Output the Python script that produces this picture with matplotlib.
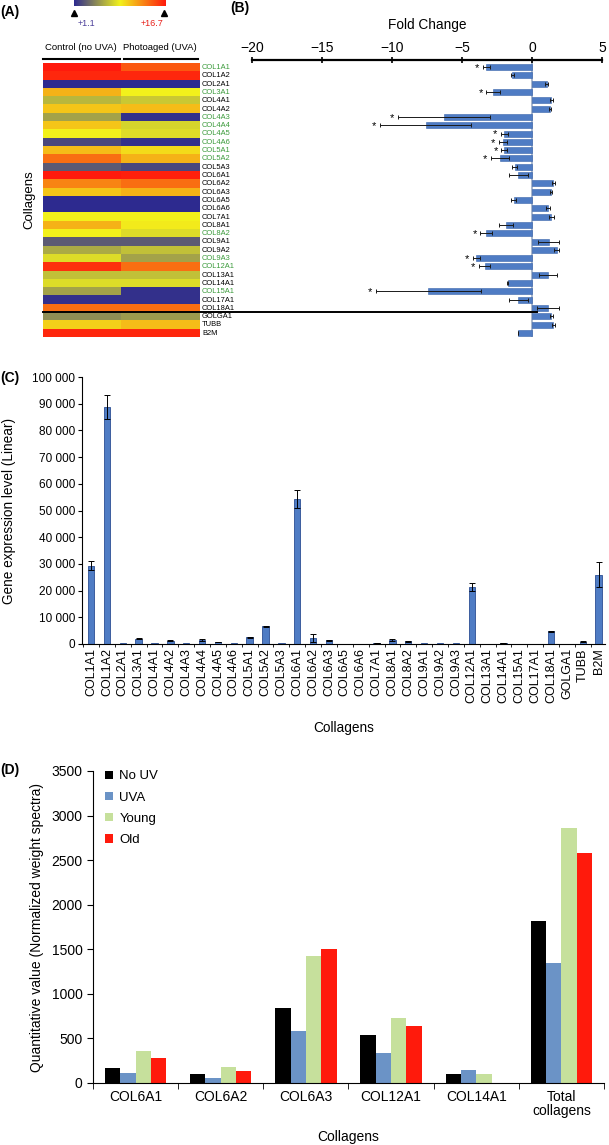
import matplotlib

matplotlib.use("Agg")
import matplotlib.pyplot as plt
import numpy as np
from matplotlib.colors import LinearSegmentedColormap
from matplotlib.lines import Line2D
from matplotlib.ticker import FuncFormatter

plt.rcParams["font.family"] = ["Liberation Sans", "DejaVu Sans"]

W, H = 609, 1145

# --- data ---
genes = ["COL1A1", "COL1A2", "COL2A1", "COL3A1", "COL4A1", "COL4A2", "COL4A3", "COL4A4",
         "COL4A5", "COL4A6", "COL5A1", "COL5A2", "COL5A3", "COL6A1", "COL6A2", "COL6A3",
         "COL6A5", "COL6A6", "COL7A1", "COL8A1", "COL8A2", "COL9A1", "COL9A2", "COL9A3",
         "COL12A1", "COL13A1", "COL14A1", "COL15A1", "COL17A1", "COL18A1",
         "GOLGA1", "TUBB", "B2M"]
significant = ["COL1A1", "COL3A1", "COL4A3", "COL4A4", "COL4A5", "COL4A6", "COL5A1",
               "COL5A2", "COL8A2", "COL9A3", "COL12A1", "COL15A1"]

# heatmap (expression scale +1.1 .. +16.7)
heat_control = [16.7, 16.2, 1.1, 11.2, 6.6, 10.5, 5.8, 10.5, 8.9, 2.3, 10.8, 13.6, 3.0,
                16.7, 12.8, 10.5, 1.1, 1.1, 8.9, 11.2, 8.9, 3.0, 6.1, 8.1, 15.9, 7.0,
                8.1, 5.8, 1.4, 13.6, 5.0, 10.1, 16.2]
heat_uva = [14.4, 16.2, 1.1, 8.9, 7.3, 10.8, 1.4, 7.8, 8.1, 1.4, 9.7, 11.2, 2.3,
            16.4, 13.6, 11.2, 1.1, 1.1, 8.9, 9.2, 8.1, 3.0, 7.0, 5.8, 13.6, 7.0,
            8.1, 1.4, 1.4, 13.6, 5.5, 10.8, 16.2]

fold_change = [-3.26, -1.42, 1.04, -2.79, 1.39, 1.28, -6.29, -7.59, -1.99, -2.08, -1.99,
               -2.27, -1.25, -0.97, 1.51, 1.35, -1.32, 1.16, 1.39, -1.89, -3.26, 1.18,
               1.75, -3.97, -3.38, 1.11, -1.73, -7.4, -0.97, 1.13, 1.37, 1.51, -1.02]
fold_err = [0.26, 0.1, 0.1, 0.47, 0.1, 0.1, 3.3, 3.26, 0.24, 0.3, 0.2, 0.66, 0.15, 0.7,
            0.1, 0.1, 0.15, 0.15, 0.15, 0.5, 0.43, 0.75, 0.15, 0.26, 0.4, 0.64, 0.05,
            3.74, 0.66, 0.78, 0.1, 0.1, 0.0]

expr_level = [29400, 88800, 200, 2000, 300, 1200, 200, 1500, 700, 200, 2600, 6600, 200,
              54200, 2400, 1400, 100, 100, 400, 1600, 1000, 200, 200, 200, 21300, 100,
              400, 100, 100, 4700, 100, 900, 25900]
expr_err = [1500, 4600, 0, 200, 0, 200, 0, 200, 100, 0, 200, 200, 0, 3400, 1500, 200, 0,
            0, 100, 400, 200, 0, 0, 0, 1500, 0, 100, 0, 0, 200, 0, 200, 4700]

prot_genes = ["COL6A1", "COL6A2", "COL6A3", "COL12A1", "COL14A1", "Total\ncollagens"]
prot_series = ["No UV", "UVA", "Young", "Old"]
prot_no_uv = [168, 101, 845, 538, 101, 1814]
prot_uva = [116, 56, 587, 340, 150, 1343]
prot_young = [359, 183, 1421, 725, 101, 2865]
prot_old = [280, 138, 1507, 636, 0, 2580]
prot_colors = ["black", "#6b93c6", "#c6e09c", "#ff1a0c"]

GREEN = "#3a9a3a"
BAR_BLUE = "#4f7cc4"
BAR_EDGE = "#2c4f94"


def fx(x):
    return x / W


def fy(y):
    return 1 - y / H


fig = plt.figure(figsize=(W / 100, H / 100), dpi=100)

# ===== (A) heatmap =====
cmap = LinearSegmentedColormap.from_list("heat", ["#2d2a8f", "#f2f21c", "#ff1a0c"])
vmin, vmax = 1.1, 16.7
n = len(genes)

ax_a = fig.add_axes([fx(43), fy(337), fx(156), 274 / H])
ax_a.imshow(np.column_stack([heat_control, heat_uva]), cmap=cmap, vmin=vmin, vmax=vmax,
            aspect="auto", extent=(0, 2, n, 0), interpolation="nearest")
ax_a.set_axis_off()
for i, g in enumerate(genes):
    ax_a.text(2.04, i + 0.55, g, fontsize=5.4, va="center", ha="left",
              color=GREEN if g in significant else "black", clip_on=False)

ax_cb = fig.add_axes([fx(74), fy(6), fx(92), 6 / H])
ax_cb.imshow(np.linspace(0, 1, 256)[None, :], cmap=cmap, aspect="auto")
ax_cb.set_axis_off()
for x in (74, 164):
    fig.add_artist(Line2D([fx(x)], [fy(13)], marker="^", color="black", markersize=4,
                          transform=fig.transFigure))
fig.text(fx(86), fy(23), "+1.1", fontsize=6.5, color="#4b3f9a", ha="center", va="center")
fig.text(fx(152), fy(23), "+16.7", fontsize=6.5, color="#e8201a", ha="center", va="center")

fig.text(fx(81), fy(47), "Control (no UVA)", fontsize=6.8, ha="center", va="center")
fig.text(fx(160), fy(47), "Photoaged (UVA)", fontsize=6.8, ha="center", va="center")
fig.add_artist(Line2D([fx(43), fx(120)], [fy(59), fy(59)], color="black", lw=1.5,
                      transform=fig.transFigure))
fig.add_artist(Line2D([fx(124), fx(198)], [fy(59), fy(59)], color="black", lw=1.5,
                      transform=fig.transFigure))
fig.text(fx(29), fy(200), "Collagens", fontsize=9.5, rotation=90, ha="center", va="center")
fig.text(0.0, fy(12), "(A)", fontsize=10, fontweight="bold", va="center")

# separator between collagens and reference genes (spans A and B)
fig.add_artist(Line2D([fx(43), fx(537)], [fy(312), fy(312)], color="black", lw=1.4,
                      transform=fig.transFigure, zorder=10))

# ===== (B) fold change =====
ax_b = fig.add_axes([fx(252), fy(337), fx(350), 277 / H])
ypos = np.arange(n)
ax_b.barh(ypos, fold_change, height=0.72, color=BAR_BLUE, edgecolor="#3a64aa", lw=0.4,
          zorder=2)
ax_b.errorbar(fold_change, ypos, xerr=fold_err, fmt="none", ecolor="#1a1a1a",
              elinewidth=0.7, capsize=1.4, capthick=0.7, zorder=3)
ax_b.axvline(0, color="#9aaac4", lw=1.2, zorder=1)
for i, g in enumerate(genes):
    if g in significant:
        ax_b.text(fold_change[i] - fold_err[i] - 0.25, i + 0.1, "*", fontsize=8,
                  ha="right", va="center")
ax_b.set_xlim(-20, 5)
ax_b.set_ylim(n - 0.5, -0.86)
ax_b.set_yticks([])
for s in ("left", "right", "bottom"):
    ax_b.spines[s].set_visible(False)
ax_b.spines["top"].set_linewidth(1.6)
ax_b.xaxis.tick_top()
ax_b.set_xticks([-20, -15, -10, -5, 0, 5])
ax_b.tick_params(axis="x", direction="inout", length=5, width=1.2, labelsize=10, pad=1)
ax_b.xaxis.set_label_position("top")
ax_b.set_xlabel("Fold Change", fontsize=9.8, labelpad=9)
fig.text(fx(230), fy(8), "(B)", fontsize=10, fontweight="bold", va="center")

# ===== (C) gene expression =====
ax_c = fig.add_axes([fx(82), fy(644), fx(523), 267 / H])
xc = np.arange(n)
ax_c.bar(xc, expr_level, width=0.4, color=BAR_BLUE, edgecolor=BAR_EDGE, lw=0.6)
err_idx = [i for i in range(n) if expr_err[i] > 0]
ax_c.errorbar(xc[err_idx], np.array(expr_level)[err_idx],
              yerr=np.array(expr_err)[err_idx], fmt="none", ecolor="black",
              elinewidth=0.7, capsize=2, capthick=0.7)
ax_c.set_xlim(-0.57, n - 0.6)
ax_c.set_ylim(0, 100000)
ax_c.set_yticks(np.arange(0, 100001, 10000))
ax_c.yaxis.set_major_formatter(FuncFormatter(lambda v, p: f"{int(v):,}".replace(",", " ")))
ax_c.set_xticks(xc)
ax_c.set_xticklabels(genes, rotation=90, fontsize=9)
ax_c.set_xticks(xc - 0.5, minor=True)
ax_c.tick_params(axis="x", which="major", length=0, pad=3)
ax_c.tick_params(axis="x", which="minor", length=2.5)
ax_c.tick_params(axis="y", labelsize=8.5, length=3, pad=2)
for s in ("top", "right"):
    ax_c.spines[s].set_visible(False)
ax_c.set_ylabel("Gene expression level (Linear)", fontsize=9.8)
ax_c.yaxis.set_label_coords((16 - 82) / 523, 0.5)
ax_c.set_xlabel("Collagens", fontsize=9.8)
ax_c.xaxis.set_label_coords(0.5, (644 - 721) / 267)
fig.text(0.0, fy(378), "(C)", fontsize=10, fontweight="bold", va="center")

# ===== (D) proteomics =====
ax_d = fig.add_axes([fx(93), fy(1083), fx(511), 312 / H])
xd = np.arange(len(prot_genes))
bw = 0.18
for k, (vals, col, lab) in enumerate(zip([prot_no_uv, prot_uva, prot_young, prot_old],
                                         prot_colors, prot_series)):
    ax_d.bar(xd + (k - 1.5) * bw, vals, width=bw, color=col, label=lab)
ax_d.set_xlim(-0.5, len(prot_genes) - 0.5)
ax_d.set_ylim(0, 3500)
ax_d.set_yticks(np.arange(0, 3501, 500))
ax_d.set_xticks(xd)
ax_d.set_xticklabels(prot_genes, fontsize=10, linespacing=1.0)
ax_d.set_xticks(np.arange(-0.5, len(prot_genes)), minor=True)
ax_d.tick_params(axis="x", which="major", length=0, pad=5)
ax_d.tick_params(axis="x", which="minor", length=4)
ax_d.tick_params(axis="y", labelsize=10, length=4)
for s in ("top", "right"):
    ax_d.spines[s].set_visible(False)
ax_d.set_ylabel("Quantitative value (Normalized weight spectra)", fontsize=10)
ax_d.yaxis.set_label_coords((44 - 93) / 511, 0.5)
ax_d.set_xlabel("Collagens", fontsize=10)
ax_d.xaxis.set_label_coords(0.5, (1083 - 1130) / 312)
ax_d.legend(loc="upper left", bbox_to_anchor=(0.0, 1.04), frameon=False, fontsize=9.5,
            handlelength=0.6, handleheight=0.6, handletextpad=0.5, labelspacing=0.7)
fig.text(0.0, fy(770), "(D)", fontsize=10, fontweight="bold", va="center")

fig.savefig("out.png", dpi=100)
